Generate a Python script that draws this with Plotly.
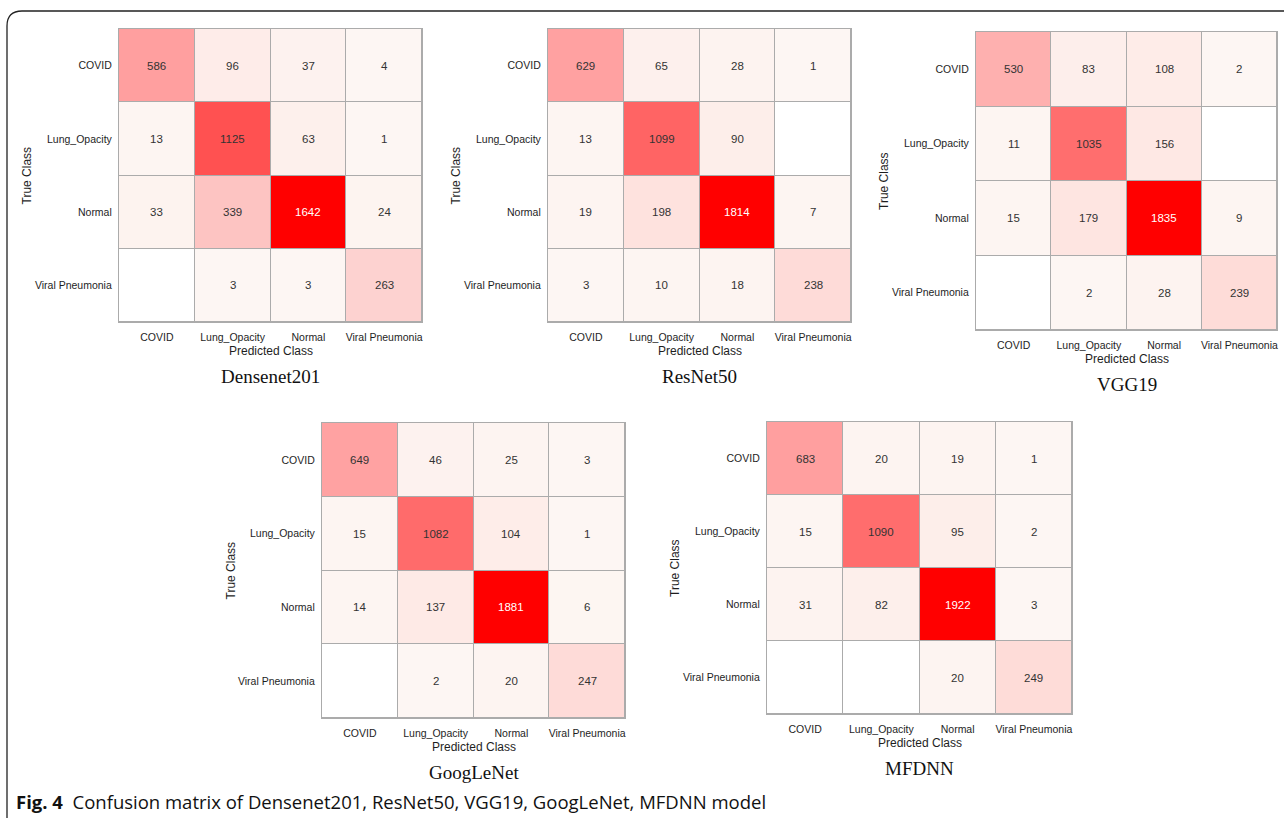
import plotly.graph_objects as go

# Class labels shared by every confusion matrix
classes = ["COVID", "Lung_Opacity", "Normal", "Viral Pneumonia"]

# Confusion matrices (rows = true class, columns = predicted class)
densenet201 = [[586, 96, 37, 4],
               [13, 1125, 63, 1],
               [33, 339, 1642, 24],
               [0, 3, 3, 263]]
resnet50 = [[629, 65, 28, 1],
            [13, 1099, 90, 0],
            [19, 198, 1814, 7],
            [3, 10, 18, 238]]
vgg19 = [[530, 83, 108, 2],
         [11, 1035, 156, 0],
         [15, 179, 1835, 9],
         [0, 2, 28, 239]]
googlenet = [[649, 46, 25, 3],
             [15, 1082, 104, 1],
             [14, 137, 1881, 6],
             [0, 2, 20, 247]]
mfdnn = [[683, 20, 19, 1],
         [15, 1090, 95, 2],
         [31, 82, 1922, 3],
         [0, 0, 20, 249]]

model_names = ["Densenet201", "ResNet50", "VGG19", "GoogLeNet", "MFDNN"]
matrices = [densenet201, resnet50, vgg19, googlenet, mfdnn]

caption_bold = "Fig. 4"
caption_text = "Confusion matrix of Densenet201, ResNet50, VGG19, GoogLeNet, MFDNN model"

W, H = 1284, 818

# Plot-area boxes in pixels: (left, right, top, bottom)
boxes = [(119, 422, 29, 322),
         (548, 851, 29, 322),
         (976, 1277, 32, 330),
         (322, 625, 423, 718),
         (767, 1072, 422, 714)]


def fx(x):
    return x / W


def fy(y):
    return 1 - y / H


GRID = "#ababab"
SANS = "Arial, Liberation Sans, sans-serif"
SERIF = "Times New Roman, Liberation Serif, serif"

# zero counts stay white; everything else runs from a pale blush to pure red
SCALE = [[0.0, "#ffffff"], [0.0004, "#fdf6f3"], [0.1, "#fee5e1"],
         [0.2, "#fdc6c4"], [0.36, "#ff9e9e"], [0.69, "#ff5050"],
         [1.0, "#ff0000"]]

fig = go.Figure()
annotations = []

for i, (name, z, box) in enumerate(zip(model_names, matrices, boxes), start=1):
    xa = "x" if i == 1 else f"x{i}"
    ya = "y" if i == 1 else f"y{i}"
    zmax = max(max(r) for r in z)
    fig.add_trace(go.Heatmap(
        z=z, x=classes, y=classes, xaxis=xa, yaxis=ya,
        zmin=0, zmax=zmax, colorscale=SCALE, showscale=False,
        xgap=1, ygap=1, hoverinfo="skip",
    ))
    for r, row in enumerate(z):
        for c, v in enumerate(row):
            if v == 0:
                continue
            annotations.append(dict(
                x=classes[c], y=classes[r], xref=xa, yref=ya,
                text=str(v), showarrow=False,
                font=dict(family=SANS, size=11.5,
                          color="#ffffff" if v / zmax > 0.8 else "#333333"),
            ))

    left, right, top, bottom = box
    ax_common = dict(
        type="category", showgrid=False, zeroline=False,
        showline=True, linecolor=GRID, linewidth=1.2, mirror=True,
        ticks="", tickfont=dict(family=SANS, size=10.5, color="#1e1e1e"),
        fixedrange=True, categoryorder="array", categoryarray=classes,
    )
    fig.layout[("xaxis" if i == 1 else f"xaxis{i}")] = dict(
        ax_common, domain=[fx(left), fx(right)], anchor=ya, ticklabelstandoff=5)
    fig.layout[("yaxis" if i == 1 else f"yaxis{i}")] = dict(
        ax_common, domain=[fy(bottom), fy(top)], anchor=xa,
        autorange="reversed", ticklabelstandoff=4)

    dom_x = f"{xa} domain"
    dom_y = f"{ya} domain"
    annotations.append(dict(
        x=0.5, y=0, xref=dom_x, yref=dom_y, yshift=-29, yanchor="middle",
        text="Predicted Class", showarrow=False,
        font=dict(family=SANS, size=12, color="#1e1e1e")))
    annotations.append(dict(
        x=0, y=0.5, xref=dom_x, yref=dom_y, xshift=-92, xanchor="center",
        text="True Class", textangle=-90, showarrow=False,
        font=dict(family=SANS, size=12, color="#1e1e1e")))
    annotations.append(dict(
        x=0.5, y=0, xref=dom_x, yref=dom_y, yshift=-54, yanchor="middle",
        text=name, showarrow=False,
        font=dict(family=SERIF, size=19, color="#111111")))

# figure caption
annotations.append(dict(
    x=fx(14), y=fy(801), xref="paper", yref="paper",
    xanchor="left", yanchor="middle", showarrow=False,
    text=f"<b>{caption_bold}</b>\u00a0\u00a0{caption_text}",
    font=dict(family="Open Sans, Noto Sans, sans-serif", size=18.5, color="#111111")))

# page frame: left edge and top edge joined by a rounded corner
frame = (f"M {fx(7)} {fy(818)} L {fx(7)} {fy(26)} "
         f"Q {fx(7)} {fy(11)} {fx(22)} {fy(11)} L {fx(1284)} {fy(11)}")

fig.update_layout(
    width=W, height=H,
    margin=dict(l=0, r=0, t=0, b=0),
    paper_bgcolor="white", plot_bgcolor=GRID,
    showlegend=False,
    annotations=annotations,
    shapes=[dict(type="path", path=frame, xref="paper", yref="paper",
                 line=dict(color="#222222", width=1.3))],
)

fig.write_html("out.html")
